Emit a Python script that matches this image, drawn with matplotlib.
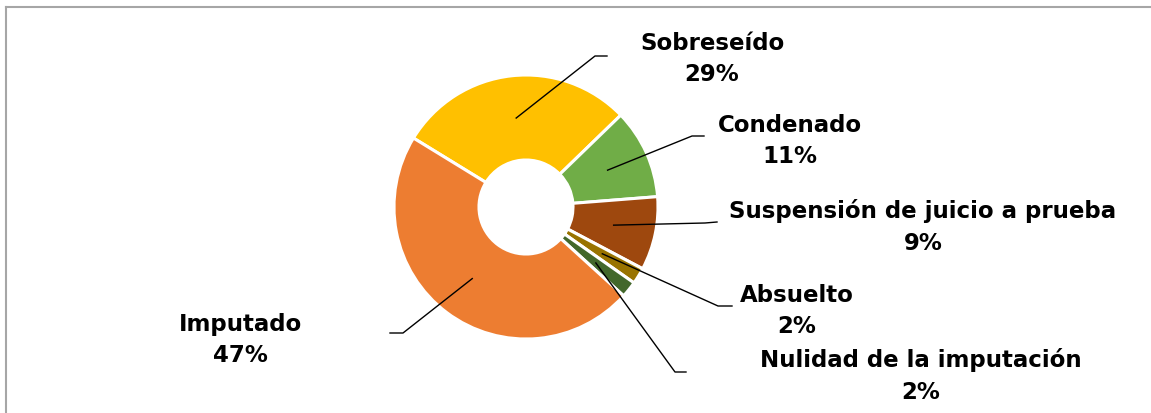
import matplotlib
matplotlib.use("Agg")
import matplotlib.pyplot as plt
import numpy as np

# ---- data ----
categories = ["Sobreseído", "Condenado", "Suspensión de juicio a prueba",
              "Absuelto", "Nulidad de la imputación", "Imputado"]
values = [29, 11, 9, 2, 2, 47]
pct_labels = ["29%", "11%", "9%", "2%", "2%", "47%"]
colors = ["#FFC000", "#70AD47", "#9E480E", "#997300", "#43682B", "#ED7D31"]

W, H = 1151, 414
fig = plt.figure(figsize=(W / 100, H / 100), dpi=100)
ax = fig.add_axes([0, 0, 1, 1])

def py(y):  # pixel-from-top -> data y
    return H - y

cx, cy = 526, 208
R, r_in = 132, 47
explode = [0, 0, 0, 0, 0, 0.02]
wedges, _ = ax.pie(values, colors=colors, startangle=148.5, counterclock=False,
                   radius=R, center=(cx, py(cy)), explode=explode,
                   wedgeprops=dict(width=R - r_in, edgecolor="white", linewidth=2.2),
                   frame=True)
ax.set_xlim(0, W)
ax.set_ylim(0, H)
ax.set_aspect("equal")
ax.axis("off")

# frame of the chart area
ax.plot([5.5, W], [py(8), py(8)], color="#A6A6A6", lw=1.5, clip_on=False)
ax.plot([5.5, 5.5], [py(8), 0], color="#A6A6A6", lw=1.5, clip_on=False)

# label layout: (elbow point, line end, text center) in pixels
layout = [
    ((595, 57), (607, 57), (712, 59)),
    ((692, 137), (704, 137), (790, 141)),
    ((705, 224), (717, 223), (923, 227)),
    ((718, 307), (732, 307), (797, 311)),
    ((675, 373), (686, 373), (921, 376)),
    ((403, 334), (390, 334), (240, 340)),
]

rmid = (R + r_in) / 2
for w, cat, pl, (elbow, end, tc) in zip(wedges, categories, pct_labels, layout):
    ang = np.deg2rad((w.theta1 + w.theta2) / 2)
    wx, wy = w.center
    ax_ = wx + rmid * np.cos(ang)
    ay_ = wy + rmid * np.sin(ang)
    ax.plot([ax_, elbow[0], end[0]], [ay_, py(elbow[1]), py(end[1])],
            color="black", lw=1.0)
    ax.text(tc[0], py(tc[1]), f"{cat}\n{pl}", ha="center", va="center",
            fontsize=16.5, fontweight="bold", family="DejaVu Sans",
            linespacing=1.45, color="black")

fig.savefig("out.png", dpi=100)
